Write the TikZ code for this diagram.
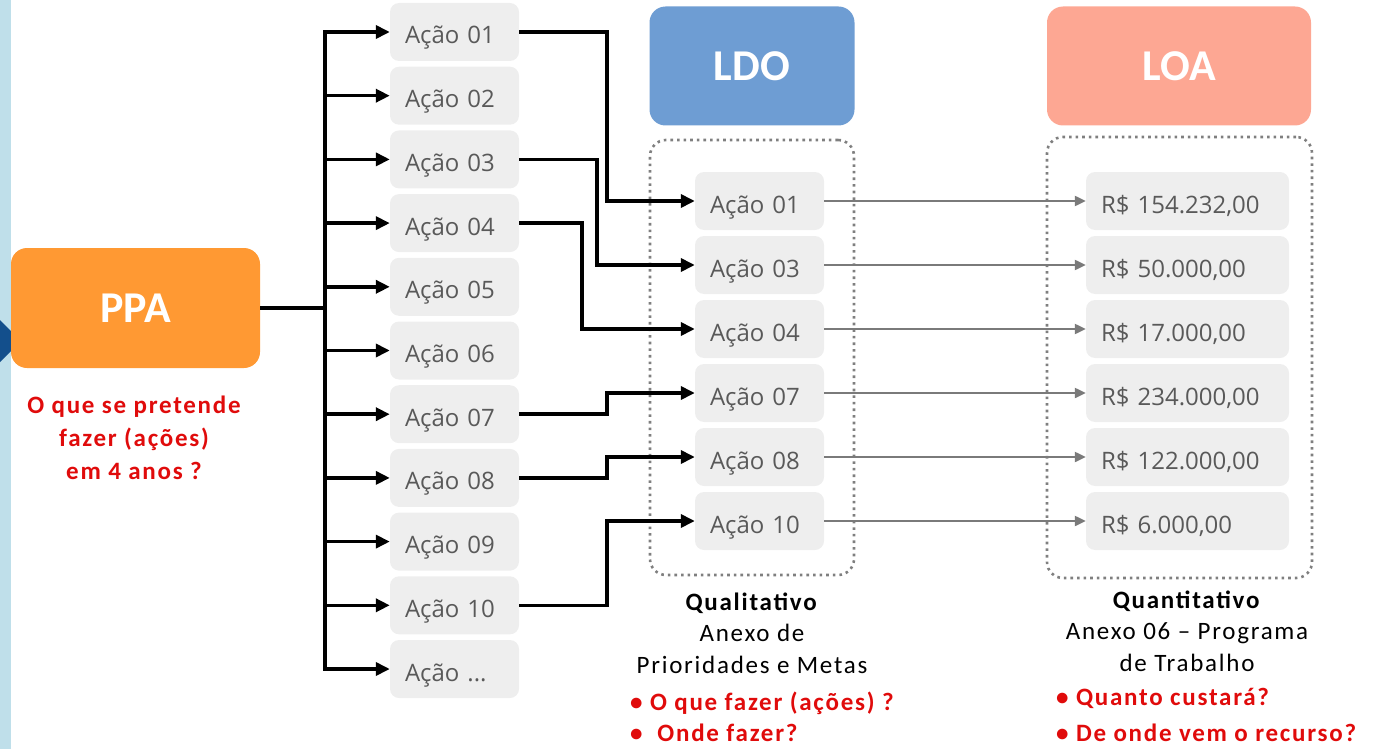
\documentclass[tikz,border=0pt]{standalone}
\usepackage{fontspec}
\setmainfont{Carlito}
\newfontfamily\actfont{Open Sans}
\newfontfamily\capfont[LetterSpace=7]{Carlito}
\usetikzlibrary{arrows.meta,calc,positioning}
\definecolor{PpaOrange}{HTML}{FF9933}
\definecolor{LdoBlue}{HTML}{6E9DD3}
\definecolor{LoaSalmon}{HTML}{FDA793}
\definecolor{BoxGray}{HTML}{EEEEEE}
\definecolor{TextGray}{HTML}{595959}
\definecolor{FrameGray}{HTML}{7F7F7F}
\definecolor{LinkGray}{HTML}{7A7A7A}
\definecolor{NoteRed}{HTML}{E00B0B}
\definecolor{EdgeBlue}{HTML}{BFDFEA}
\definecolor{TipNavy}{HTML}{134F8C}

\begin{document}
\begin{tikzpicture}[x=1pt,y=-1pt,
  actbox/.style={fill=BoxGray,rounded corners=9pt,minimum width=129pt,minimum height=58pt,inner xsep=15pt,inner ysep=0pt,
    text width=99pt,align=left,text height=24pt,text depth=0pt,text=TextGray,font=\actfont\fontsize{24}{28}\selectfont},
  valbox/.style={actbox,minimum width=203pt,text width=173pt},
  headbox/.style={rounded corners=16pt,minimum height=119pt,inner sep=0pt,text=white,font=\bfseries\fontsize{44}{48}\selectfont},
  dotframe/.style={draw=FrameGray,line width=2.6pt,dash pattern=on 2.6pt off 4pt,rounded corners=16pt,inner sep=0pt},
  wire/.style={line width=3.5pt},
  link/.style={wire,-{Triangle[length=14pt,width=13pt]}},
  glink/.style={draw=LinkGray,line width=2.2pt,-{Triangle[length=11pt,width=10pt]}},
  note/.style={text=NoteRed,inner sep=0pt,font=\capfont\bfseries\fontsize{25}{33}\selectfont},
  capt/.style={font=\capfont\fontsize{25}{31.5}\selectfont,align=center}]
  \useasboundingbox (0,0) rectangle (1373,749);
  \fill[EdgeBlue] (0,0) rectangle (11,749);
  \fill[TipNavy] (0,320) -- (21,341) -- (0,362) -- cycle;

  % PPA
  \node[headbox,fill=PpaOrange,minimum width=249pt,minimum height=120pt] (ppa) at (135.5,308) {PPA};
  \node[note,align=center] (ppanote) at (134,438) {O que se pretende\\fazer (ações)\\em 4 anos ?};

  % frames and headers
  \node[dotframe,minimum width=204pt,minimum height=435pt] (ldoframe) at (752,357.5) {};
  \node[dotframe,minimum width=265pt,minimum height=441pt] (loaframe) at (1179.5,357.5) {};
  \node[headbox,fill=LdoBlue,minimum width=205pt] (ldo) at (752,66) {LDO};
  \node[headbox,fill=LoaSalmon,minimum width=264pt] (loa) at (1179,66) {LOA};

  % actions of the PPA
  \foreach \n [count=\i] in {01,02,03,04,05,06,07,08,09,10}
    \node[actbox] (la\i) at (454.5,{32+63.7*(\i-1)}) {Ação \n};
  \node[actbox] (la11) at (454.5,669) {Ação ...};

  \coordinate (trunk) at (325,308);
  \draw[wire] (ppa.east) -- (trunk);
  \draw[wire,line cap=rect] (trunk |- la1) -- (trunk |- la11);
  \foreach \i in {1,...,11}
    \draw[link] (trunk |- la\i) -- (la\i.west);

  % LDO and LOA rows
  \foreach \n/\v [count=\i] in {01/{154.232,00},03/{50.000,00},04/{17.000,00},07/{234.000,00},08/{122.000,00},10/{6.000,00}} {
    \node[actbox] (mid\i) at (759.5,{201+64*(\i-1)}) {Ação \n};
    \node[valbox] (val\i) at (1187.5,{201+64*(\i-1)}) {R\$ \v};
    \draw[glink] (mid\i.east) -- (val\i.west);
  }
  \foreach \src/\bx [count=\i] in {1/607,3/597,4/582,7/607,8/607,10/607} {
    \coordinate (bend) at (\bx,0);
    \draw[link] (la\src.east) -- (la\src.east -| bend) |- (mid\i.west);
  }

  % captions
  \node[capt] (qualcap) at (752,633) {\textbf{Qualitativo}\\Anexo de\\Prioridades e Metas};
  \node[note,align=left,anchor=north west,font=\capfont\bfseries\fontsize{25}{31}\selectfont] (qualnote) at (630,692) {• O que fazer (ações) ?\\•\ \ Onde fazer?};
  \node[capt] (quantcap) at (1187,631) {\textbf{Quantitativo}\\Anexo 06 – Programa\\de Trabalho};
  \node[note,align=left,anchor=north west,font=\capfont\bfseries\fontsize{25}{36}\selectfont] (quantnote) at (1056,688) {• Quanto custará?\\• De onde vem o recurso?};
\end{tikzpicture}
\end{document}
